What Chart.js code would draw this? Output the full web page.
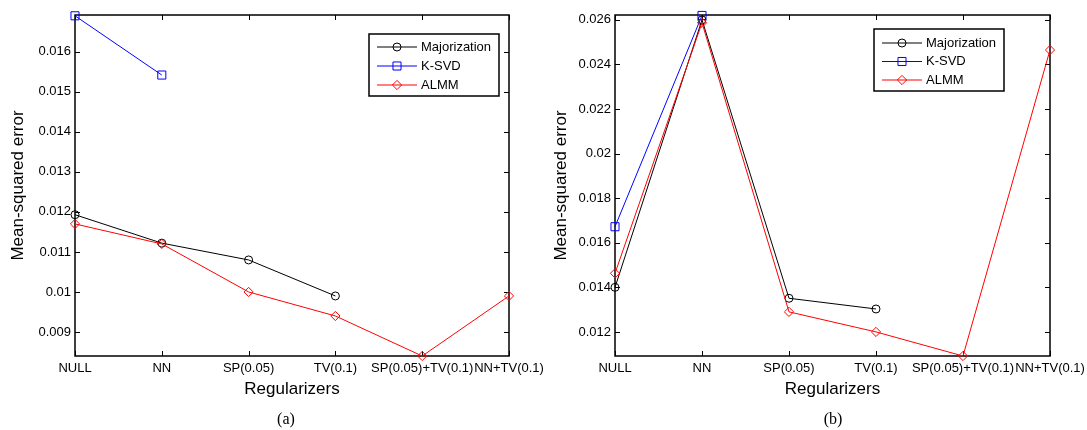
<!DOCTYPE html>
<html><head><meta charset="utf-8">
<script src="https://cdn.jsdelivr.net/npm/chart.js@4.4.1/dist/chart.umd.min.js"></script>
<style>
html,body{margin:0;padding:0;background:#fff;width:1087px;height:430px;overflow:hidden;}
.wrap{position:absolute;top:0;height:430px;}
#wa{left:0;width:560px;}
#wb{left:543px;width:544px;}
.cap{position:absolute;top:410px;line-height:18px;font-size:16px;font-family:"Liberation Serif","Times New Roman",serif;color:#000;transform:translateX(-50%);white-space:nowrap;}
</style></head><body>
<div class="wrap" id="wa"><canvas id="ca" width="560" height="430"></canvas></div>
<div class="wrap" id="wb"><canvas id="cb" width="544" height="430"></canvas></div>
<div class="cap" style="left:286px">(a)</div>
<div class="cap" style="left:833px">(b)</div>
<script>
// ---- data ----
const categories = ['NULL','NN','SP(0.05)','TV(0.1)','SP(0.05)+TV(0.1)','NN+TV(0.1)'];
const seriesNames = ['Majorization','K-SVD','ALMM'];

const majorizationA = [0.01193, 0.01122, 0.0108, 0.0099, null, null];
const ksvdA        = [0.0169, 0.01542, null, null, null, null];
const almmA        = [0.0117, 0.0112, 0.0100, 0.0094, 0.0084, 0.0099];

const majorizationB = [0.0140, 0.0260, 0.01351, 0.01303, null, null];
const ksvdB        = [0.01672, 0.02620, null, null, null, null];
const almmB        = [0.01463, 0.02587, 0.0129, 0.0120, 0.01092, 0.02465];

const yTicksA = [0.009, 0.010, 0.011, 0.012, 0.013, 0.014, 0.015, 0.016];
const yTickLabelsA = ['0.009','0.01','0.011','0.012','0.013','0.014','0.015','0.016'];
const yRangeA = [0.0084, 0.01692];

const yTicksB = [0.012, 0.014, 0.016, 0.018, 0.020, 0.022, 0.024, 0.026];
const yTickLabelsB = ['0.012','0.014','0.016','0.018','0.02','0.022','0.024','0.026'];
const yRangeB = [0.01092, 0.02622];

// ---- styles ----
Chart.defaults.font.family = '"Liberation Sans", Arial, sans-serif';
Chart.defaults.color = '#000';

const styles = [
  {color:'#000000', pointStyle:'circle', radius:4, order:2},
  {color:'#0000ff', pointStyle:'rect', radius:5.7, order:1},
  {color:'#ff0000', pointStyle:'rectRot', radius:4.6, order:0}
];

function makeDatasets(arrs){
  return arrs.map((d,i)=>({
    label: seriesNames[i],
    data: d,
    borderColor: styles[i].color,
    borderWidth: 1,
    pointStyle: styles[i].pointStyle,
    pointRadius: styles[i].radius,
    pointBorderColor: styles[i].color,
    pointBackgroundColor: 'rgba(0,0,0,0)',
    pointBorderWidth: 1,
    tension: 0,
    spanGaps: false,
    clip: false,
    order: styles[i].order
  }));
}

const framePlugin = {
  id: 'frame',
  beforeDatasetsDraw(chart){
    const {ctx, chartArea:a, scales:{x, y}} = chart;
    const L = 5;
    ctx.save();
    ctx.strokeStyle = '#000';
    ctx.lineWidth = 1;
    ctx.beginPath();
    x.ticks.forEach((t,i)=>{
      const px = Math.round(x.getPixelForTick(i)) + 0.5;
      ctx.moveTo(px, a.bottom); ctx.lineTo(px, a.bottom - L);
      ctx.moveTo(px, a.top); ctx.lineTo(px, a.top + L);
    });
    y.ticks.forEach((t,i)=>{
      const py = Math.round(y.getPixelForTick(i)) + 0.5;
      ctx.moveTo(a.left, py); ctx.lineTo(a.left + L, py);
      ctx.moveTo(a.right, py); ctx.lineTo(a.right - L, py);
    });
    ctx.stroke();
    ctx.lineWidth = 1.5;
    ctx.strokeRect(a.left, a.top, a.right - a.left, a.bottom - a.top);
    ctx.restore();
  }
};

const boxLegendPlugin = {
  id: 'boxLegend',
  afterDraw(chart, args, opts){
    const ctx = chart.ctx;
    ctx.save();
    ctx.fillStyle = '#fff';
    ctx.fillRect(opts.x, opts.y, opts.w, opts.h);
    ctx.strokeStyle = '#000';
    ctx.lineWidth = 1.5;
    ctx.strokeRect(opts.x, opts.y, opts.w, opts.h);
    chart.data.datasets.forEach((ds, i)=>{
      const cy = opts.y + opts.first + i * opts.step;
      ctx.strokeStyle = ds.borderColor;
      ctx.lineWidth = 1;
      ctx.beginPath();
      ctx.moveTo(opts.x + 8, cy); ctx.lineTo(opts.x + 48, cy);
      ctx.stroke();
      ctx.fillStyle = 'rgba(0,0,0,0)';
      Chart.helpers.drawPoint(ctx, {pointStyle: ds.pointStyle, radius: ds.pointRadius, rotation: 0, borderWidth: 1}, opts.x + 28, cy);
      ctx.fillStyle = '#000';
      ctx.font = '13px "Liberation Sans", Arial, sans-serif';
      ctx.textBaseline = 'middle';
      ctx.textAlign = 'left';
      ctx.fillText(ds.label, opts.x + 52, cy);
    });
    ctx.restore();
  }
};

function makeChart(id, arrs, yTicks, yLabels, yRange, yWidth, padRight, legend){
  return new Chart(document.getElementById(id), {
    type: 'line',
    data: { labels: categories, datasets: makeDatasets(arrs) },
    plugins: [framePlugin, boxLegendPlugin],
    options: {
      responsive: false,
      animation: false,
      events: [],
      layout: { padding: { left: 0, right: padRight, top: 15, bottom: 24 } },
      plugins: {
        legend: { display: false },
        tooltip: { enabled: false },
        boxLegend: legend
      },
      scales: {
        x: {
          type: 'category',
          offset: false,
          grid: { display: false, drawTicks: false },
          border: { display: false },
          ticks: { autoSkip: false, maxRotation: 0, minRotation: 0, padding: 5, font: { size: 13 }, color: '#000' },
          title: { display: true, text: 'Regularizers', font: { size: 17 }, color: '#000', padding: { top: 0, bottom: 6 } },
          afterFit: s => { s.height = 50; s.paddingLeft = 0; s.paddingRight = 0; }
        },
        y: {
          type: 'linear',
          min: yRange[0],
          max: yRange[1],
          afterBuildTicks: s => { s.ticks = yTicks.map(v => ({ value: v })); },
          grid: { display: false, drawTicks: false },
          border: { display: false },
          ticks: {
            padding: 4, font: { size: 13 }, color: '#000',
            callback: (v) => { const k = yTicks.findIndex(t => Math.abs(t - v) < 1e-9); return k >= 0 ? yLabels[k] : ''; }
          },
          title: { display: true, text: 'Mean-squared error', font: { size: 17 }, color: '#000', padding: { top: 8, bottom: 0 } },
          afterFit: s => { s.width = yWidth; s.paddingTop = 0; s.paddingBottom = 0; }
        }
      }
    }
  });
}

makeChart('ca', [majorizationA, ksvdA, almmA], yTicksA, yTickLabelsA, yRangeA, 75, 51,
  { x: 369, y: 34, w: 130, h: 62, first: 13, step: 19 });
makeChart('cb', [majorizationB, ksvdB, almmB], yTicksB, yTickLabelsB, yRangeB, 72, 37,
  { x: 331, y: 29, w: 130, h: 62, first: 14, step: 18.5 });
</script>
</body></html>
